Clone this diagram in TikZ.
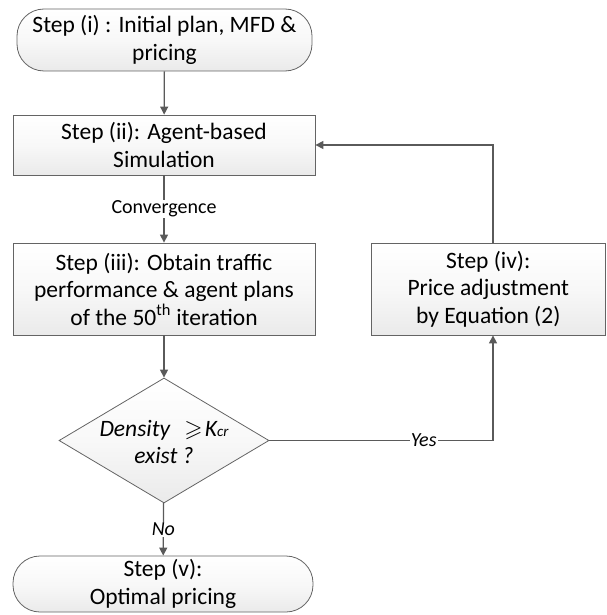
\documentclass[tikz,border=0pt]{standalone}
\usepackage{amssymb}
\usepackage{fontspec}
\setmainfont{Carlito}
\usetikzlibrary{shapes.geometric,arrows.meta}
\definecolor{linec}{RGB}{90,90,90}
\definecolor{borderc}{RGB}{100,100,100}
\definecolor{fillb}{RGB}{234,234,234}
\definecolor{fillm}{RGB}{248,248,248}
\newcommand{\mainfs}{\fontsize{23.5}{27.5}\selectfont}
\newcommand{\labfs}{\fontsize{20}{22}\selectfont}
\begin{document}
\begin{tikzpicture}[x=1pt,y=-1pt,
  shade box/.style={top color=white, bottom color=fillb, middle color=fillm},
  box/.style={draw=borderc, line width=0.8pt, shade box,
    align=center, inner sep=0pt, font=\mainfs},
  term/.style={box, rounded corners=27pt},
  dia/.style={draw=borderc, line width=0.8pt, shade box,
    shape=diamond, inner sep=0pt, minimum width=210pt, minimum height=125pt},
  conn/.style={draw=linec, line width=1.3pt, -{Triangle[length=8pt,width=8pt]}},
  plainconn/.style={draw=linec, line width=1.3pt},
  lab/.style={fill=white, inner sep=1pt, font=\labfs}
]
\useasboundingbox (0,0) rectangle (606,615);

\node[term, minimum width=295pt, minimum height=62pt] (s1) at (164.5,40)
  {Step (i) : Initial plan, MFD \&\\pricing};
\node[box, minimum width=302pt, minimum height=60pt] (s2) at (164,145)
  {Step (ii): Agent-based\\Simulation};
\node[box, minimum width=302pt, minimum height=92pt] (s3) at (164,289)
  {Step (iii): Obtain traffic\\performance \& agent plans\\of the 50\textsuperscript{th} iteration};
\node[box, minimum width=234.5pt, minimum height=92pt] (s4) at (488.25,289)
  {Step (iv):\\Price adjustment\\by Equation (2)};
\node[dia] (d) at (164,440.5) {};
\node[font=\mainfs\itshape, align=center, inner sep=0pt] (dt) at (164,442)
  {Density\hspace{0.6em}$\geqslant$\hspace{0.1em}K{\fontsize{15}{15}\selectfont cr}\\exist ?};
\node[term, minimum width=300pt, minimum height=56pt] (s5) at (163,584)
  {Step (v):\\Optimal pricing};

\coordinate (fb) at (493,145);
\coordinate (yc) at (493,440.5);

\draw[conn] (s1) -- (s2);
\draw[conn] (s2) -- node[lab, pos=0.5] {Convergence} (s3);
\draw[conn] (s3) -- (d);
\draw[conn] (d) -- node[lab, pos=0.5, font=\labfs\itshape] {No} (s5);
\draw[plainconn] (d.east) -- node[lab, pos=0.69, font=\labfs\itshape] {Yes} (yc);
\draw[conn] (yc) -- (s4.south -| yc);
\draw[conn] (s4.north -| fb) -- (fb) -- (s2.east);
\end{tikzpicture}
\end{document}
